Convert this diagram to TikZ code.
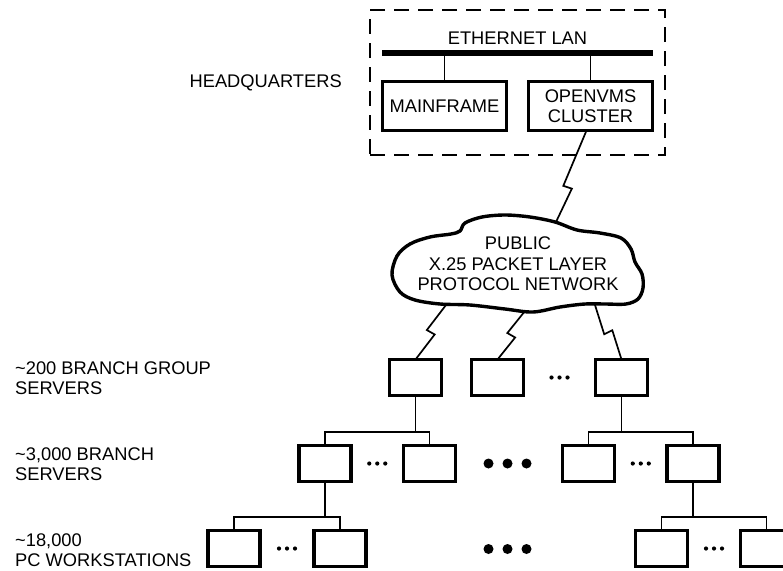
\documentclass[tikz,border=0pt]{standalone}
\usepackage{fontspec}
\setmainfont{Liberation Sans}
\usetikzlibrary{positioning,calc}

% lightning link with a small zig in it
\newcommand{\zap}[3][0.5]{%
  \draw[zap_link] (#2) -- ($(#2)!#1!(#3)!4.5pt!-90:(#3)$) -- ($(#2)!#1!(#3)!4.5pt!90:(#3)$) -- (#3);}

\begin{document}
\begin{tikzpicture}[
    x=1pt, y=1pt,
    font=\fontsize{18.3}{20.5}\selectfont,
    node_box/.style={draw, line width=3.6pt, minimum width=52pt, minimum height=36pt, inner sep=0pt, outer sep=0pt},
    host_box/.style={node_box, minimum width=124pt, minimum height=49pt, align=center},
    hq_box/.style={draw, dash pattern=on 15pt off 9pt, line width=1.7pt, minimum width=295pt, minimum height=145pt, outer sep=0pt},
    lan_bar/.style={fill=black, minimum width=271pt, minimum height=5.5pt, inner sep=0pt, outer sep=0pt},
    tier_label/.style={anchor=west, align=left, inner sep=0pt},
    txt/.style={inner sep=0pt, align=center},
    link/.style={line width=1.4pt},
    zap_link/.style={line width=1.7pt, line join=miter},
    cloud_line/.style={line width=3.4pt}
]
\useasboundingbox (0,0) rectangle (783,-570);

% HEADQUARTERS
\node[hq_box] (hq) at (517.5,-82.5) {};
\node[txt, left=28pt of hq] (hq_label) {HEADQUARTERS};
\node[lan_bar] (lan) at (517.5,-53) {};
\node[txt, above=6pt of lan] (lan_label) {ETHERNET LAN};
\node[host_box] (mainframe) at (444.5,-106) {MAINFRAME};
\node[host_box, right=22pt of mainframe] (openvms) {OPENVMS\\CLUSTER};

\draw[link] (lan.south -| mainframe.north) -- (mainframe.north);
\draw[link] (lan.south -| openvms.north) -- (openvms.north);

% PUBLIC X.25 NETWORK
\node[txt] (x25) at (518,-264) {PUBLIC\\X.25 PACKET LAYER\\PROTOCOL NETWORK};
\draw[cloud_line] plot[smooth cycle, tension=0.55] coordinates {
    (392,-275) (397,-256) (410,-244) (430,-237) (451,-234) (460,-231)
    (465,-223) (482,-217) (505,-215) (530,-217) (555,-222) (577,-230)
    (600,-233) (621,-238) (631,-249) (635,-262) (642,-274) (643,-288)
    (638,-299) (626,-304) (605,-304) (585,-304) (560,-307) (533,-312)
    (505,-309) (470,-305) (440,-304) (415,-300) (400,-292)};

\coordinate (vms_out) at ([xshift=-4pt]openvms.south);
\coordinate (cloud_top) at (556,-222);
\coordinate (cloud_b1) at (446,-305);
\coordinate (cloud_b2) at (525,-311);
\coordinate (cloud_b3) at (595,-305);

% BRANCH GROUP SERVERS
\node[node_box] (bg1) at (415.5,-377.5) {};
\node[node_box, right=30pt of bg1] (bg2) {};
\node[node_box] (bg3) at (621.5,-377.5) {};
\coordinate (bg_dots) at ($(bg2.east)!0.5!(bg3.west)$);

% BRANCH SERVERS
\node[node_box] (bs1) at (325,-463.5) {};
\node[node_box, right=52.5pt of bs1] (bs2) {};
\node[node_box] (bs3) at (588.5,-463.5) {};
\node[node_box, right=52.5pt of bs3] (bs4) {};
\coordinate (bs_dots1) at ($(bs1.east)!0.5!(bs2.west)$);
\coordinate (bs_dots2) at ($(bs3.east)!0.5!(bs4.west)$);
\coordinate (bs_more) at (507.5,-463.5);

% PC WORKSTATIONS
\node[node_box] (pc1) at (234,-548.5) {};
\node[node_box, right=54pt of pc1] (pc2) {};
\node[node_box] (pc3) at (661.5,-548.5) {};
\node[node_box, right=53pt of pc3] (pc4) {};
\coordinate (pc_dots1) at ($(pc1.east)!0.5!(pc2.west)$);
\coordinate (pc_dots2) at ($(pc3.east)!0.5!(pc4.west)$);
\coordinate (pc_more) at (507.5,-549);

% TIER LABELS
\node[tier_label] (bg_label) at (15,-378) {\textasciitilde 200 BRANCH GROUP\\SERVERS};
\node[tier_label] (bs_label) at (15,-464) {\textasciitilde 3,000 BRANCH\\SERVERS};
\node[tier_label] (pc_label) at (15,-550) {\textasciitilde 18,000\\PC WORKSTATIONS};

% LINKS
\zap[0.62]{vms_out}{cloud_top}
\zap{cloud_b1}{bg1.north}
\zap{cloud_b2}{bg2.north}
\zap{cloud_b3}{bg3.north}

\draw[link] (bg1.south) -- ++(0,-36.5) coordinate (bg1_fork);
\draw[link] (bs1.north) |- (bg1_fork) -| (bs2.north);
\draw[link] (bg3.south) -- ++(0,-36.5) coordinate (bg3_fork);
\draw[link] (bs3.north) |- (bg3_fork) -| (bs4.north);

\draw[link] (bs1.south) -- ++(0,-35.5) coordinate (bs1_fork);
\draw[link] (pc1.north) |- (bs1_fork) -| (pc2.north);
\draw[link] (bs4.south) -- ++(0,-35.5) coordinate (bs4_fork);
\draw[link] (pc3.north) |- (bs4_fork) -| (pc4.north);

% DOTS
\foreach \c in {bg_dots, bs_dots1, bs_dots2, pc_dots1, pc_dots2}
    \foreach \d in {-8,0,8}
        \fill ([xshift=\d pt]\c) circle (2.1pt);
\foreach \c in {bs_more, pc_more}
    \foreach \d in {-19,0,19}
        \fill ([xshift=\d pt]\c) circle (5pt);

\end{tikzpicture}
\end{document}
